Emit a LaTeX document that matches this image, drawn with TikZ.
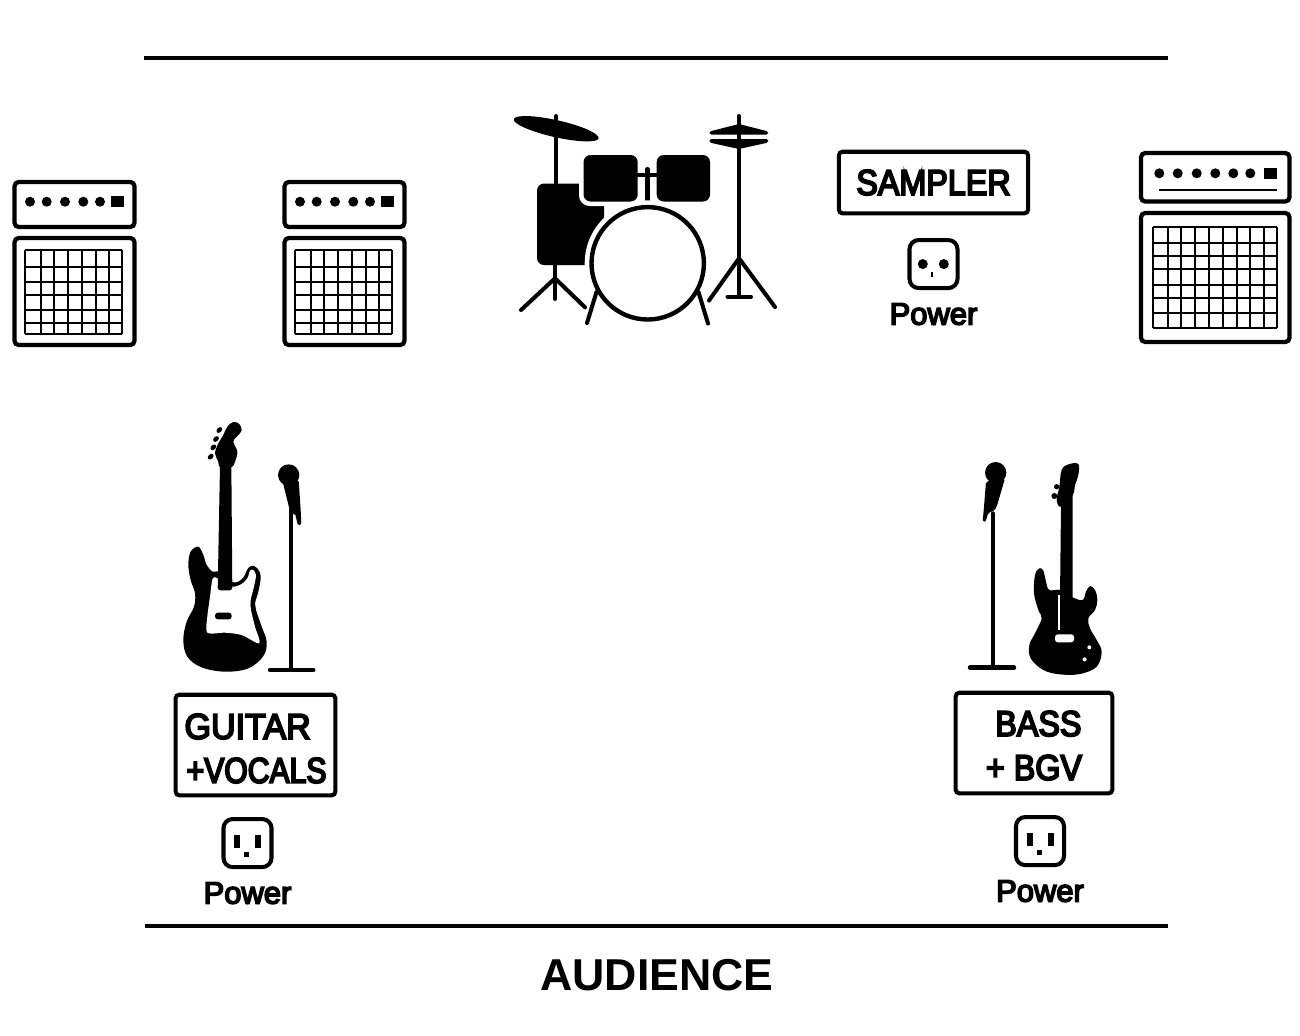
\documentclass[tikz,border=0pt]{standalone}
\usepackage{fontspec}
\setmainfont{Liberation Sans}
\newfontfamily\labelfont[FakeStretch=0.9,FakeBold=5]{Liberation Sans}
\newfontfamily\tightfont[FakeStretch=0.84,FakeBold=5]{Liberation Sans}
\newfontfamily\wideguitarfont[FakeStretch=0.95,FakeBold=5]{Liberation Sans}
\newfontfamily\powerfont[FakeBold=5]{Liberation Sans}
\usetikzlibrary{positioning}
\tikzstyle{stageline} = [line width=1.2pt]
\tikzstyle{ampline} = [line width=1.2pt, rounded corners=1.2pt]
\tikzstyle{gridline} = [line width=0.6pt]
\tikzstyle{standline} = [line width=1.15pt, line cap=round]
\tikzstyle{labelbox} = [rectangle, rounded corners=1pt, draw=black, line width=1.15pt, inner sep=0pt, text centered, font=\labelfont\fontsize{10.2}{12.5}\selectfont]
\tikzstyle{outlet} = [rectangle, rounded corners=2.6pt, draw=black, line width=1.15pt, minimum size=0.48cm, inner sep=0pt]
\tikzstyle{power} = [font=\powerfont\fontsize{8.8}{10}\selectfont]

\begin{document}
\begin{tikzpicture}[x=0.01cm, y=-0.01cm, node distance=0.5cm]
  \useasboundingbox (0,0) rectangle (1300,1035);

  % stage edges
  \coordinate (backl) at (144,58);
  \coordinate (backr) at (1168,58);
  \coordinate (frontl) at (145,926);
  \coordinate (frontr) at (1168,926);
  \draw [stageline] (backl) -- (backr);
  \draw [stageline] (frontl) -- (frontr);
  \node (audience) at (657,975) {\bfseries\fontsize{12.7}{15}\selectfont AUDIENCE};

  % the two small amps
  \foreach \ampx in {0,270} {
    \begin{scope}[shift={(\ampx,0)}]
      \draw [ampline] (14.5,182) rectangle (134.5,227);
      \draw [ampline] (14.5,238) rectangle (134.5,345);
      \foreach \knob in {30,46.7,65,83.3,100}
        \fill (\knob,201.7) circle (5);
      \fill (111,196) rectangle (123.7,207.3);
      \foreach \gx in {25.3,40.7,54.3,68.3,82.3,96,109.3,122.3}
        \draw [gridline] (\gx,250) -- (\gx,334.3);
      \foreach \gy in {250,266.7,281.7,295,310,323.3,334.3}
        \draw [gridline] (25.3,\gy) -- (122.3,\gy);
    \end{scope}
  }

  % big amp
  \draw [ampline] (1141,153) rectangle (1289.5,201.5);
  \draw [ampline] (1141,213) rectangle (1289.5,342);
  \foreach \knob in {1159.3,1177.7,1196.7,1215.3,1233.3,1250.3}
    \fill (\knob,173.3) circle (5);
  \fill (1264.3,168) rectangle (1276.7,179);
  \draw [gridline] (1159,189.7) -- (1277,189.7);
  \foreach \gx in {1152.7,1167.7,1181,1195,1208.7,1223,1236.7,1250,1263.7,1276.7}
    \draw [gridline] (\gx,227.3) -- (\gx,327.7);
  \foreach \gy in {227.3,242.7,256,269.3,285,298.3,312.7,327.7}
    \draw [gridline] (1152.7,\gy) -- (1276.7,\gy);

  % drums
  \draw [standline] (556,116) -- (556,185);
  \fill [rotate around={-12.7:(556.2,128.7)}] (556.2,128.7) ellipse (43.5 and 8.5);
  \draw [standline] (555,265) -- (555,299);
  \draw [standline] (521,310) -- (555,278.3) -- (585,307.3);
  \fill [rounded corners=2pt] (537,183.5) rectangle (604,265);
  \fill [white, rounded corners=3pt] (579,151) rectangle (642,206);
  \draw [standline] (647.5,169) -- (647.5,208);
  \draw [line width=0.9pt] (635,175) -- (660,175);
  \fill [rounded corners=2pt] (583.5,155) rectangle (637.7,201.5);
  \fill [rounded corners=2pt] (656.7,155) rectangle (710,201.5);
  \fill [white] (647.7,263.3) circle (63);
  \draw [line width=1.25pt] (647.7,263.3) circle (56.2);
  \draw [standline] (596.5,292) -- (587,323);
  \draw [standline] (698.5,292) -- (708,323.5);
  \draw [standline] (739,116) -- (739,296);
  \draw [standline] (727.5,296.7) -- (751,296.7);
  \draw [standline] (709,300.5) -- (739,258.3) -- (775,307);
  \fill [rounded corners=0.5pt] (709.3,134.5) -- (709.3,131.5) -- (739,124) -- (768.3,131.5) -- (768.3,134.5) -- cycle;
  \fill [rounded corners=0.5pt] (709.3,139) -- (768.3,139) -- (768.3,142.5) -- (739,149) -- (709.3,142.5) -- cycle;

  % guitar
  \begin{scope}[shift={(170,410)}, scale=1/3]
    \fill plot [smooth cycle, tension=0.6] coordinates {(85,410) (62,425) (55,465) (62,510) (75,550) (72,590) (50,635) (40,690) (52,740) (95,772) (165,785) (235,775) (280,738) (290,695) (275,650) (258,600) (255,580) (265,545) (272,500) (262,475) (245,467) (232,478) (222,500) (205,515) (187,516) (165,500) (143,484) (128,485) (110,465) (100,435)};
    \fill [white] plot [smooth cycle, tension=0.5] coordinates {(128,505) (120,560) (112,620) (112,668) (165,668) (215,675) (268,700) (255,650) (243,600) (242,570) (252,530) (258,495) (250,480) (240,482) (232,505) (215,522) (190,530) (165,520) (143,505)};
    \fill [rounded corners=0.8pt] (150,165) -- (184,165) -- (187,541) -- (143,541) -- cycle;
    \fill plot [smooth cycle, tension=0.6] coordinates {(150,172) (145,155) (135,130) (145,100) (160,75) (172,50) (190,36) (208,42) (215,62) (200,80) (190,95) (202,125) (195,155) (184,172)};
    \fill [rounded corners=0.8pt] (135,608) rectangle (185,628);
    \foreach \px/\py in {148/60,138/87,130/112,122/140}
      \fill [rotate around={45:(\px,\py)}] (\px,\py) ellipse (10 and 7);
    % its mic
    \draw [standline] (362,300) -- (362,778);
    \draw [line width=1.25pt, line cap=round] (300,780) -- (430,780);
    \fill (356,195) circle (32);
    \fill [rounded corners=0.5pt] (338,215) -- (386,210) -- (392,300) -- (394,345) -- (384,347) -- (375,310) -- (362,312) -- cycle;
  \end{scope}

  % bass
  \begin{scope}[shift={(960,450)}, scale=1/3]
    \fill plot [smooth cycle, tension=0.6] coordinates {(301,420) (268,420) (258,395) (250,362) (238,355) (225,375) (222,430) (235,480) (245,505) (225,550) (208,585) (212,625) (250,660) (300,673) (360,672) (410,650) (425,605) (410,570) (390,535) (385,505) (405,480) (412,450) (405,420) (390,408) (378,425) (368,450) (338,442)};
    \fill (303,165) -- (338,125) -- (338,445) -- (300,445) -- cycle;
    \fill plot [smooth cycle, tension=0.6] coordinates {(303,170) (290,150) (298,110) (305,60) (325,43) (355,42) (355,75) (345,105) (338,135)};
    \fill [white, rounded corners=0.8pt] (285,553) rectangle (342,577);
    \fill [white] (388,592) circle (6);
    \fill [white] (374,628) circle (6);
    \draw [white, line width=0.4pt] (297,435) -- (297,540);
    \fill (290,110) circle (8);
    \fill (283,138) circle (9);
    % its mic
    \draw [standline] (98,190) -- (98,650);
    \draw [line width=1.25pt, line cap=round] (30,653) -- (162,653);
    \fill (107,68) circle (32);
    \fill [rounded corners=0.5pt] (78,95) -- (135,85) -- (110,170) -- (103,182) -- (85,188) -- (76,217) -- (68,215) -- (72,170) -- cycle;
  \end{scope}

  % sampler
  \node (sampler) [labelbox, minimum width=1.89cm, minimum height=0.615cm] at (933.5,182.5) {SAMPLER};
  \node (out1) [outlet, below of=sampler, yshift=-0.315cm] {};
  \node (power1) [power, below of=out1] {Power};
  \fill ([shift={(-10.7,0)}]out1.center) circle (5);
  \fill ([shift={(10.3,0)}]out1.center) circle (5);
  \draw [line width=0.5pt] ([shift={(-1.5,7.5)}]out1.center) -- ([shift={(-1.5,13)}]out1.center);

  % guitar + vocals
  \node (guitar) [labelbox, minimum width=1.595cm, minimum height=1.005cm, align=left] at (255.5,745) {\rule{0pt}{9.1pt}{\wideguitarfont GUITAR}\\\hspace{0.6pt}{\tightfont +VOCALS}};
  \node (out2) [outlet, below of=guitar, yshift=-0.48cm, xshift=-0.08cm] {};
  \node (power2) [power, below of=out2] {Power};
  \fill ([shift={(-13,-8.5)}]out2.center) rectangle ([shift={(-7,5)}]out2.center);
  \fill ([shift={(8,-8.5)}]out2.center) rectangle ([shift={(14,5)}]out2.center);
  \fill ([shift={(-3,9)}]out2.center) rectangle ([shift={(2,14)}]out2.center);

  % bass + bgv
  \node (bass) [labelbox, minimum width=1.565cm, minimum height=1.005cm, align=center] at (1034,743) {\rule{0pt}{8.6pt}\hspace{2.5pt}BASS\\+ BGV};
  \node (out3) [outlet, below of=bass, yshift=-0.48cm, xshift=0.06cm] {};
  \node (power3) [power, below of=out3] {Power};
  \fill ([shift={(-13,-8.5)}]out3.center) rectangle ([shift={(-7,5)}]out3.center);
  \fill ([shift={(8,-8.5)}]out3.center) rectangle ([shift={(14,5)}]out3.center);
  \fill ([shift={(-3,9)}]out3.center) rectangle ([shift={(2,14)}]out3.center);
\end{tikzpicture}
\end{document}
